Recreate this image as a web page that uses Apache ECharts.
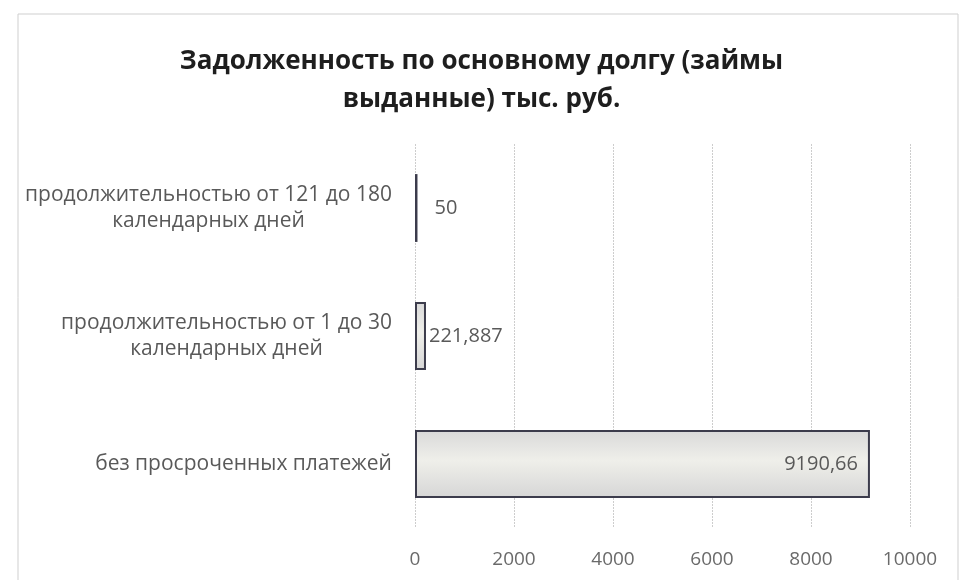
<!DOCTYPE html>
<html>
<head>
<meta charset="utf-8">
<script src="https://cdn.jsdelivr.net/npm/echarts@6/dist/echarts.min.js"></script>
<style>html,body{margin:0;padding:0;background:#fff;}#c{width:963px;height:580px;}</style>
</head>
<body>
<div id="c"></div>
<script>
const titleText = 'Задолженность по основному долгу (займы\nвыданные) тыс. руб.';
const categories = [
  'без просроченных платежей',
  'продолжительностью от 1 до 30\nкалендарных дней',
  'продолжительностью от 121 до 180\nкалендарных дней'
];
const values = [9190.66, 221.887, 50];
const axisMin = 0, axisMax = 10000, axisStep = 2000;

const FONT = "'Open Sans'";
const labelSize = 21;

// measure widths so multi-line labels are centred within their block
const cv = document.createElement('canvas').getContext('2d');
cv.font = labelSize + 'px ' + FONT;
const rich = {};
categories.forEach((c, i) => {
  const w = Math.max(...c.split('\n').map(s => cv.measureText(s).width));
  rich['l' + i] = { width: Math.ceil(w), align: 'center', fontSize: labelSize, fontFamily: FONT, color: '#595959', lineHeight: 26 };
});

const labelCfg = [
  { position: 'insideRight', distance: 12 },
  { position: 'right', distance: 3 },
  { position: 'right', distance: 17 }
];

const chart = echarts.init(document.getElementById('c'), null, { renderer: 'canvas' });
chart.setOption({
  animation: false,
  backgroundColor: '#fff',
  graphic: [{
    type: 'rect', shape: { x: 18, y: 14, width: 940, height: 580 },
    style: { fill: 'none', stroke: '#cfcfcf', lineWidth: 1 }, silent: true
  }],
  title: {
    text: titleText, left: 'center', top: 38,
    textStyle: { fontFamily: FONT, fontWeight: 'bold', fontSize: 26, color: '#1e1e1e', lineHeight: 38 }
  },
  grid: { left: 415, right: 53, top: 144, bottom: 52, containLabel: false },
  xAxis: {
    type: 'value', min: axisMin, max: axisMax, interval: axisStep,
    axisLine: { show: false }, axisTick: { show: false },
    splitLine: { show: true, lineStyle: { color: '#cdcdcd', width: 1, type: [2, 1] } },
    axisLabel: { fontFamily: FONT, fontSize: 19, color: '#6a6a6a', margin: 22, formatter: v => String(v) }
  },
  yAxis: {
    type: 'category', data: categories,
    axisLine: { show: false }, axisTick: { show: false },
    axisLabel: {
      margin: 23,
      formatter: (v, i) => v.split('\n').map(s => '{l' + i + '|' + s + '}').join('\n'),
      rich: rich
    }
  },
  series: [{
    type: 'bar',
    barCategoryGap: '47%',
    data: values.map((v, i) => ({
      value: v,
      label: Object.assign({ show: true }, labelCfg[i])
    })),
    itemStyle: {
      color: new echarts.graphic.LinearGradient(0, 0, 0, 1, [
        { offset: 0, color: '#d9d9d9' },
        { offset: 0.45, color: '#efefea' },
        { offset: 1, color: '#d6d6d6' }
      ]),
      borderColor: '#3c3c4c', borderWidth: 2
    },
    label: {
      fontFamily: FONT, fontSize: 20, color: '#595959',
      formatter: p => String(p.value).replace('.', ',')
    }
  }]
});
</script>
</body>
</html>
